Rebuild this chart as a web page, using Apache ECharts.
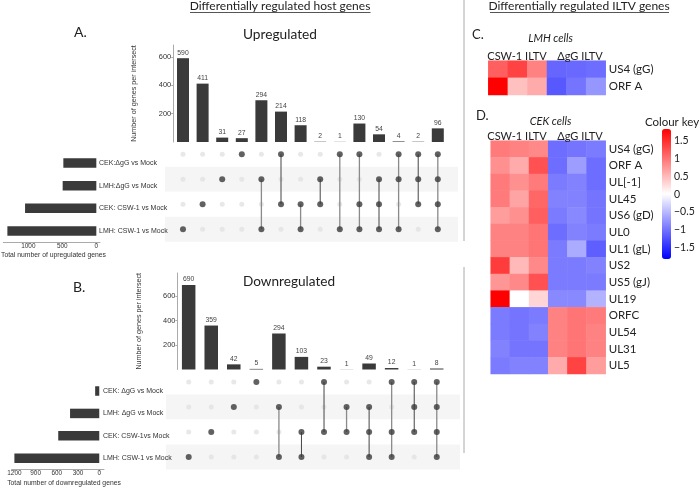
<!DOCTYPE html>
<html><head><meta charset="utf-8">
<style>html,body{margin:0;padding:0;background:#fff}#c{width:700px;height:487px}</style>
<script src="https://cdn.jsdelivr.net/npm/echarts@6/dist/echarts.min.js"></script>
</head><body><div id="c"></div>
<script>
// ---------- data ----------
const upBars = [590,411,31,27,294,214,118,2,1,130,54,4,2,96];
const upSets = [[3],[2],[1],[0],[1,3],[0,2],[2,3],[1,2],[0,3],[0,2,3],[1,2,3],[0,1,3],[0,1,2],[0,1,2,3]];
const upLineDark = [0,0,0,0,0,1,0,1,0,0,1,0,1,0];
const upRows = ['CEK:ΔgG vs Mock','LMH:ΔgG vs Mock','CEK: CSW-1 vs Mock','LMH: CSW-1 vs Mock'];
const upTotals = [485,495,1048,1308];
const upTotalTicks = [0,500,1000];
const downBars = [690,359,42,5,294,103,23,1,49,12,1,8];
const downSets = [[3],[2],[1],[0],[1,3],[2,3],[0,2],[1,2],[1,2,3],[0,2,3],[0,1,2],[0,1,2,3]];
const downLineDark = [0,0,0,0,0,1,1,0,1,0,1,0];
const downRows = ['CEK: ΔgG vs Mock','LMH: ΔgG vs Mock','CEK: CSW-1vs Mock','LMH: CSW-1 vs Mock'];
const downTotals = [58,413,580,1200];
const downTotalTicks = [0,300,600,900,1200];
const intersectTicks = [200,400,600];
const heatCols = ['c1','c2','c3','c4','c5','c6'];
const lmhRows = ['US4 (gG)','ORF A'];
const lmhValues = [
  [1.15,1.35,0.9,-1.1,-1.08,-1.05],
  [1.83,0.45,0.6,-1.2,-1.0,-0.75]];
const cekRows = ['US4 (gG)','ORF A','UL[-1]','UL45','US6 (gD)','UL0','UL1 (gL)','US2','US5 (gJ)','UL19','ORFC','UL54','UL31','UL5'];
const cekValues = [
  [0.95,0.9,0.85,-1.05,-1.0,-0.95],
  [0.8,0.6,1.25,-1.05,-0.7,-1.05],
  [0.95,0.8,0.95,-0.95,-0.9,-1.05],
  [0.95,0.65,1.1,-0.9,-0.9,-1.0],
  [0.7,0.8,1.15,-0.95,-0.85,-1.0],
  [0.9,0.9,1.0,-1.05,-0.9,-0.95],
  [0.9,0.9,1.0,-0.95,-0.6,-1.15],
  [1.4,0.5,0.85,-0.95,-0.95,-0.9],
  [0.75,0.85,1.25,-0.95,-0.95,-0.95],
  [1.83,0,0.3,-0.85,-0.85,-0.55],
  [-0.95,-1.0,-0.95,0.9,1.0,0.95],
  [-0.95,-1.0,-0.9,0.9,1.0,0.9],
  [-0.9,-1.0,-1.0,0.9,1.0,0.9],
  [-0.95,-0.9,-0.9,0.6,1.35,0.7]];
const keyTicks = [-1.5,-1,-0.5,0,0.5,1,1.5];

// ---------- styles ----------
const SANS = '"Liberation Sans", Arial, sans-serif';
const HEAD = 'Lato, "Open Sans", sans-serif';
const DARK = '#3a3a3a';
const grid = [], xAxis = [], yAxis = [], series = [];

function addGrid(g, x, y){
  const i = grid.length;
  grid.push(Object.assign({containLabel:false}, g));
  xAxis.push(Object.assign({gridIndex:i}, x));
  yAxis.push(Object.assign({gridIndex:i}, y));
  return i;
}
function upset(cfg){
  let i = addGrid(cfg.barGrid,
    {type:'category', data:cfg.bars.map((_,k)=>k), show:false},
    {type:'value', min:0, max:cfg.barMax, position:'left',
     name:'Number of genes per intersect', nameLocation:'middle', nameGap:cfg.nameGap,
     nameTextStyle:{fontFamily:SANS, fontSize:7.2, color:'#333'},
     axisLine:{show:true, lineStyle:{color:'#aaa', width:1}},
     axisTick:{show:true, length:2, lineStyle:{color:'#aaa'}, customValues:intersectTicks},
     axisLabel:{fontFamily:SANS, fontSize:7.4, color:'#333', margin:2, customValues:intersectTicks},
     splitLine:{show:false}});
  series.push({type:'bar', xAxisIndex:i, yAxisIndex:i, data:cfg.bars, barWidth:cfg.barWidth, silent:true,
    itemStyle:{color:DARK},
    label:{show:true, position:'top', distance:2, fontFamily:SANS, fontSize:6.8, color:'#444'}});
  const m = addGrid(cfg.matGrid,
    {type:'value', min:cfg.matMin, max:cfg.matMax, show:false},
    {type:'category', data:cfg.rows, inverse:true,
     axisLine:{show:false}, axisTick:{show:false}, axisLabel:{show:false},
     splitArea:{show:true, areaStyle:{color:['#ffffff','#f5f5f5']}}, splitLine:{show:false}});
  const off = [], on = [];
  cfg.sets.forEach((s,c)=>{
    cfg.rows.forEach((_,r)=> (s.includes(r) ? on : off).push([c,r]));
    if (s.length > 1) series.push({type:'line', xAxisIndex:m, yAxisIndex:m, silent:true, symbol:'none', z:3,
      data:[[c,Math.min(...s)],[c,Math.max(...s)]],
      lineStyle:{color:cfg.lineDark[c] ? '#454545' : '#8a8a8a', width:cfg.lineDark[c] ? 1 : 1.3}});
  });
  series.push({type:'scatter', xAxisIndex:m, yAxisIndex:m, data:off, symbolSize:5, silent:true, z:2, itemStyle:{color:'#e2e2e2'}});
  series.push({type:'scatter', xAxisIndex:m, yAxisIndex:m, data:on, symbolSize:6, silent:true, z:4, itemStyle:{color:DARK}});
  const t = addGrid(cfg.totGrid,
    {type:'value', inverse:true, min:cfg.totMin, max:cfg.totMax,
     axisLine:{show:true, onZero:false, lineStyle:{color:'#aaa'}},
     axisTick:{show:true, length:2, lineStyle:{color:'#aaa'}, customValues:cfg.totTicks},
     axisLabel:{fontFamily:SANS, fontSize:6.4, color:'#333', margin:1, customValues:cfg.totTicks, formatter:v=>String(v)},
     splitLine:{show:false}},
    {type:'category', data:cfg.rows, inverse:true, position:'right',
     axisLine:{show:false}, axisTick:{show:false},
     axisLabel:{fontFamily:SANS, fontSize:7, color:'#333', margin:-1, align:'left'}});
  series.push({type:'bar', xAxisIndex:t, yAxisIndex:t, data:cfg.totals, barWidth:9.5, silent:true, itemStyle:{color:DARK}});
}
upset({bars:upBars, sets:upSets, rows:upRows, totals:upTotals, lineDark:upLineDark, totTicks:upTotalTicks,
  barGrid:{left:173.2, width:274.4, top:45, height:97}, barMax:683, barWidth:12, nameGap:36,
  matGrid:{left:165, width:293, top:141.7, height:100}, matMin:-0.918, matMax:14.03,
  totGrid:{left:3.3, width:96.7, top:151.6, height:90.8}, totMin:-54, totMax:1368});
upset({bars:downBars, sets:downSets, rows:downRows, totals:downTotals, lineDark:downLineDark, totTicks:downTotalTicks,
  barGrid:{left:177.4, width:270.6, top:273, height:96.5}, barMax:788, barWidth:13.5, nameGap:35,
  matGrid:{left:166, width:294, top:369.5, height:100}, matMin:-1.007, matMax:12.03,
  totGrid:{left:7, width:97, top:379.8, height:89.7}, totMin:-67, totMax:1240});

function heat(g, rows, vals){
  const i = addGrid(g,
    {type:'category', data:heatCols, show:false},
    {type:'category', data:rows, inverse:true, position:'right',
     axisLine:{show:false}, axisTick:{show:false},
     axisLabel:{fontFamily:HEAD, fontSize:11.5, color:'#222', margin:3, align:'left', interval:0}});
  const d = [];
  vals.forEach((row,r)=>row.forEach((v,c)=>d.push([c,r,v])));
  series.push({type:'heatmap', xAxisIndex:i, yAxisIndex:i, data:d, silent:true});
  return series.length-1;
}
const h1 = heat({left:488.3, width:117.4, top:60.7, height:34.3}, lmhRows, lmhValues);
const h2 = heat({left:490.7, width:115, top:140.7, height:233.3}, cekRows, cekValues);
addGrid({left:662, width:9, top:129, height:130.3},
  {type:'category', data:['k'], show:false},
  {type:'value', min:-1.83, max:1.83, position:'right',
   axisLine:{show:false}, axisTick:{show:false}, splitLine:{show:false},
   axisLabel:{fontFamily:HEAD, fontSize:10.5, color:'#222', margin:3, align:'left', customValues:keyTicks,
     formatter:v=> v<0 ? '\u2212'+Math.abs(v) : String(v)}});

// ---------- annotations ----------
function txt(x,y,text,size,o){o=o||{};
  return {type:'text', x, y, silent:true, rotation:o.rot||0, z:20, style:{text,
    font:(o.style?o.style+' ':'')+size+'px '+(o.fam||HEAD), fill:o.fill||'#222',
    textAlign:o.align||'center', textVerticalAlign:'middle'}};
}
function rule(x1,y1,x2,y2,color,w){
  return {type:'line', silent:true, z:19, shape:{x1,y1,x2,y2}, style:{stroke:color, lineWidth:w}};
}
const graphic = [
  txt(280,6,'Differentially regulated host genes',12),
  rule(190,12.5,370.5,12.5,'#555',1),
  txt(579,6,'Differentially regulated ILTV genes',12),
  rule(490,12.5,669,12.5,'#555',1),
  rule(464,0,464,241,'#aaa',1),
  rule(464,267,464,453,'#aaa',1),
  txt(74,32,'A.',14,{align:'left'}),
  txt(73,287,'B.',14,{align:'left'}),
  txt(472,35,'C.',13,{align:'left'}),
  txt(476,116,'D.',13,{align:'left'}),
  txt(243,35,'Upregulated',13.7,{align:'left'}),
  txt(243,282,'Downregulated',13.6,{align:'left'}),
  txt(550.5,38.5,'LMH cells',11,{style:'italic'}),
  txt(550.5,121,'CEK cells',11,{style:'italic'}),
  txt(517,56,'CSW-1 ILTV',11),
  txt(580,56,'ΔgG ILTV',11),
  txt(517,136,'CSW-1 ILTV',11),
  txt(580,136,'ΔgG ILTV',11),
  txt(672,122,'Colour key',11.5),
  txt(53.5,255,'Total number of upregulated genes',6.8,{fam:SANS,fill:'#333'}),
  txt(64,483,'Total number of downregulated genes',6.8,{fam:SANS,fill:'#333'})
];

const chart = echarts.init(document.getElementById('c'), null, {renderer:'canvas'});
chart.setOption({
  animation:false, backgroundColor:'#fff',
  grid, xAxis, yAxis, series, graphic,
  visualMap:{type:'continuous', min:-1.83, max:1.83, seriesIndex:[h1,h2], calculable:false, padding:0, realtime:false,
    inRange:{color:['#0000ff','#ffffff','#ff0000']}, text:['',''], textGap:0,
    left:662, top:129, itemWidth:9, itemHeight:130, hoverLink:false}
});
</script></body></html>
